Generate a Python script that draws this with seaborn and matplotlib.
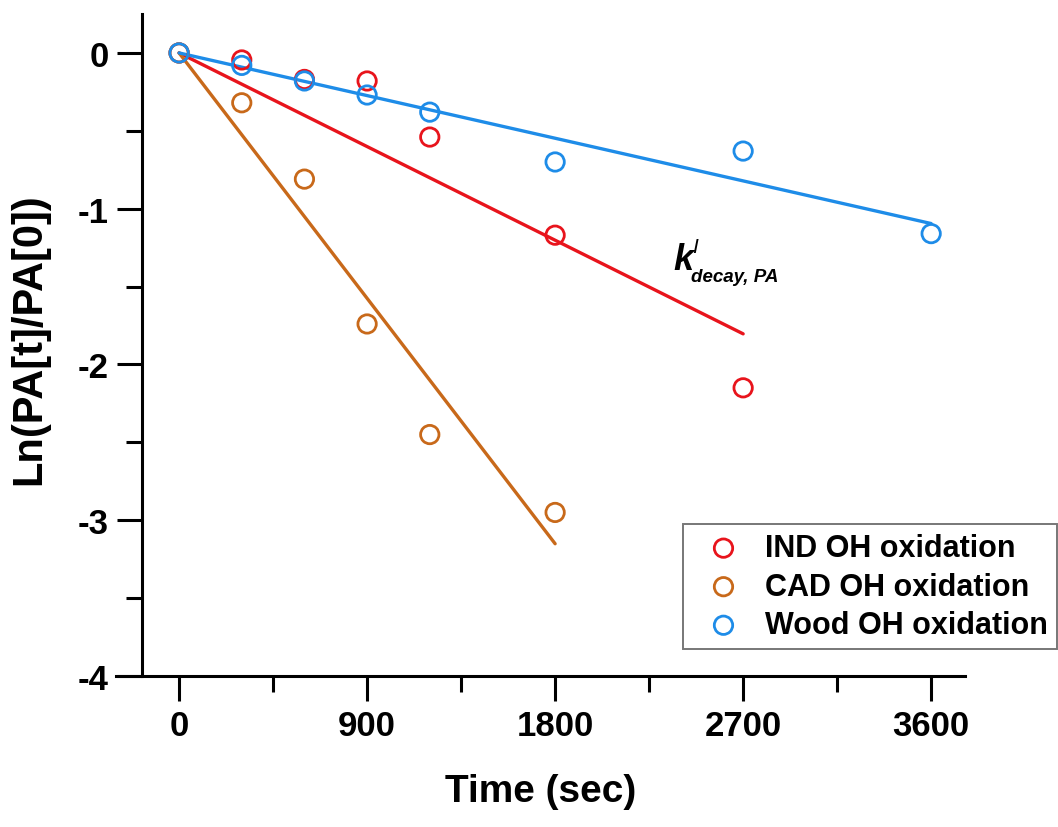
import numpy as np
import pandas as pd
import seaborn as sns
import matplotlib
matplotlib.use("Agg")
import matplotlib.pyplot as plt
from matplotlib.ticker import FixedLocator
from matplotlib import transforms

# ---- data ----
ind_time = [0, 300, 600, 900, 1200, 1800, 2700]
ind_ln = [0.0, -0.045, -0.17, -0.18, -0.54, -1.17, -2.15]

cad_time = [0, 300, 600, 900, 1200, 1800]
cad_ln = [0.0, -0.32, -0.81, -1.74, -2.45, -2.95]

wood_time = [0, 300, 600, 900, 1200, 1800, 2700, 3600]
wood_ln = [0.0, -0.08, -0.18, -0.27, -0.38, -0.70, -0.63, -1.16]

series_names = ["IND OH oxidation", "CAD OH oxidation", "Wood OH oxidation"]
colors = ["#E8141C", "#C8691A", "#1E8CE8"]
x_ticks = [0, 900, 1800, 2700, 3600]
y_ticks = [0, -1, -2, -3, -4]

sns.set_theme(style="ticks")
plt.rcParams["font.family"] = ["Liberation Sans", "DejaVu Sans"]
plt.rcParams["font.weight"] = "bold"
plt.rcParams["axes.labelweight"] = "bold"
plt.rcParams["text.color"] = "black"
plt.rcParams["axes.labelcolor"] = "black"
plt.rcParams["xtick.color"] = "black"
plt.rcParams["ytick.color"] = "black"

fig = plt.figure(figsize=(10.58, 8.28), dpi=100)
W, H = 1058, 828
ax = fig.add_axes([116 / W, 1 - 677 / H, (965 - 116) / W, (677 - 15) / H])

datasets = [(ind_time, ind_ln), (cad_time, cad_ln), (wood_time, wood_ln)]

# fit lines (linear fit through origin)
for (t, y), c in zip(datasets, colors):
    t_arr = np.array(t, dtype=float)
    y_arr = np.array(y, dtype=float)
    slope = np.sum(t_arr * y_arr) / np.sum(t_arr ** 2)
    end = t_arr.max()
    fit_df = pd.DataFrame({"t": [0.0, end], "y": [0.0, slope * end]})
    sns.lineplot(data=fit_df, x="t", y="y", color=c, lw=2.4, ax=ax, legend=False)

# data points (open circles)
for (t, y), c, name in zip(datasets, colors, series_names):
    df = pd.DataFrame({"t": t, "y": y})
    sns.scatterplot(data=df, x="t", y="y", ax=ax, marker="o", s=175,
                    facecolor="none", edgecolor=c, linewidth=2.0,
                    label=name, zorder=3)

ax.set_xlim(-302, 3762)
ax.set_ylim(-4.0, 0.25)

for s in ["top", "right"]:
    ax.spines[s].set_visible(False)
ax.spines["left"].set_position(("data", -177))
for s in ["left", "bottom"]:
    ax.spines[s].set_linewidth(2.2)
    ax.spines[s].set_color("black")

ax.xaxis.set_major_locator(FixedLocator(x_ticks))
ax.xaxis.set_minor_locator(FixedLocator([450, 1350, 2250, 3150]))
ax.yaxis.set_major_locator(FixedLocator(y_ticks))
ax.yaxis.set_minor_locator(FixedLocator([-0.5, -1.5, -2.5, -3.5]))
ax.set_xticklabels([str(v) for v in x_ticks])
ax.set_yticklabels([str(v) for v in y_ticks])

ax.tick_params(which="major", direction="out", length=18, width=2.2,
               labelsize=25, pad=6, color="black", labelcolor="black")
ax.tick_params(which="minor", direction="out", length=11.5, width=2.2, color="black")
for lab in ax.get_xticklabels() + ax.get_yticklabels():
    lab.set_fontweight("bold")

ax.set_xlabel("Time (sec)", fontsize=28, fontweight="bold", labelpad=22, color="black")
ax.set_ylabel("Ln(PA[t]/PA[0])", fontsize=30, fontweight="bold", color="black")
ax.yaxis.set_label_coords(-0.079, 0.51)

# annotation k'_{decay, PA}
kx, ky = 2365, -1.387
ax.text(kx, ky, "k", fontsize=26, fontweight="bold", style="italic",
        ha="left", va="baseline", color="black")
sub_tr = transforms.offset_copy(ax.transData, fig=fig, x=12.5, y=-8.5, units="points")
ax.text(kx, ky, "decay, PA", fontsize=13.5, fontweight="bold", style="italic",
        ha="left", va="baseline", transform=sub_tr, color="black")
sup_tr = transforms.offset_copy(ax.transData, fig=fig, x=13.5, y=12, units="points")
ax.text(kx, ky, "I", fontsize=15, fontweight="normal", style="italic",
        ha="left", va="baseline", transform=sup_tr, color="black")

leg = ax.legend(loc="upper left", bbox_to_anchor=(683 / W, 1 - 525 / H),
                bbox_transform=fig.transFigure, fontsize=22, frameon=True,
                fancybox=False, borderpad=0.3, labelspacing=0.28,
                handletextpad=0.33, handlelength=2.05, borderaxespad=0,
                markerscale=1.0)
leg.get_frame().set_edgecolor("#555555")
leg.get_frame().set_linewidth(1.4)
for txt in leg.get_texts():
    txt.set_fontweight("bold")
    txt.set_color("black")

fig.savefig("out.png", dpi=100, facecolor="white")
